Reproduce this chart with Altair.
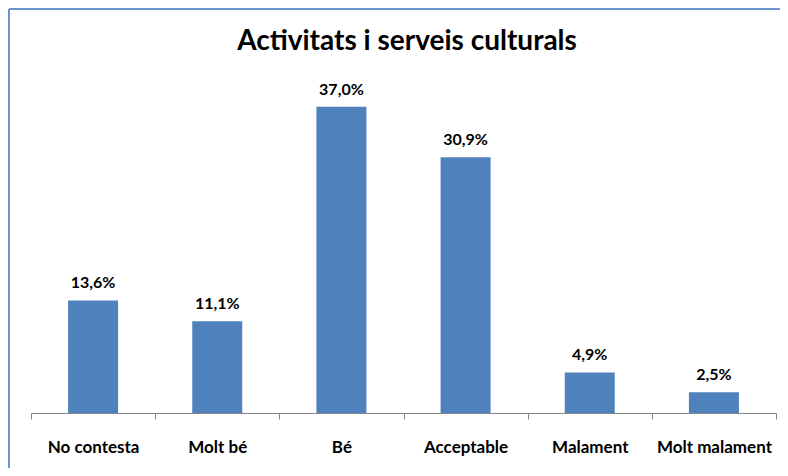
import altair as alt
import pandas as pd

categories = ["No contesta", "Molt bé", "Bé", "Acceptable", "Malament", "Molt malament"]
values = [13.6, 11.1, 37.0, 30.9, 4.9, 2.5]
labels = ["13,6%", "11,1%", "37,0%", "30,9%", "4,9%", "2,5%"]
title_text = ["Activitats i serveis culturals"]

df = pd.DataFrame({"cat": categories, "val": values, "lab": labels})
tdf = pd.DataFrame({"t": title_text})

FONT = "Lato, sans-serif"

x = alt.X("cat:N", sort=categories, title=None,
          scale=alt.Scale(paddingInner=0, paddingOuter=0),
          axis=alt.Axis(labelAngle=0, tickBand="extent", domainColor="#868686",
                        tickColor="#868686", tickSize=6, labelPadding=20,
                        labelFont=FONT, labelFontSize=17, labelFontWeight="bold",
                        labelColor="black"))
y = alt.Y("val:Q", title=None, scale=alt.Scale(domain=[0, 40]), axis=None)

base = alt.Chart(df)
bars = base.mark_bar(color="#4F81BD", size=50).encode(x=x, y=y)
text = base.mark_text(baseline="bottom", dy=-9, font=FONT, fontSize=16,
                      fontWeight="bold", color="black").encode(x=x, y=y, text="lab:N")

title = alt.Chart(tdf).mark_text(font=FONT, fontSize=28, fontWeight="bold",
                                 color="black", baseline="alphabetic", align="center").encode(
    x=alt.value(376), y=alt.value(-32), text="t:N")

border_left = alt.Chart(tdf).mark_rule(color="#6B93CB", strokeWidth=2).encode(
    x=alt.value(-22), y=alt.value(-73), y2=alt.value(390))
border_top = alt.Chart(tdf).mark_rule(color="#6B93CB", strokeWidth=2).encode(
    x=alt.value(-22), x2=alt.value(760), y=alt.value(-73))

chart = alt.layer(bars, text, title, border_left, border_top).properties(
    width=745, height=331,
    autosize=alt.AutoSizeParams(type="none"),
    padding={"left": 23, "top": 74, "right": 4, "bottom": 55},
).configure_view(stroke=None)

chart.save("out.html", embed_options={"renderer": "svg", "actions": False})
